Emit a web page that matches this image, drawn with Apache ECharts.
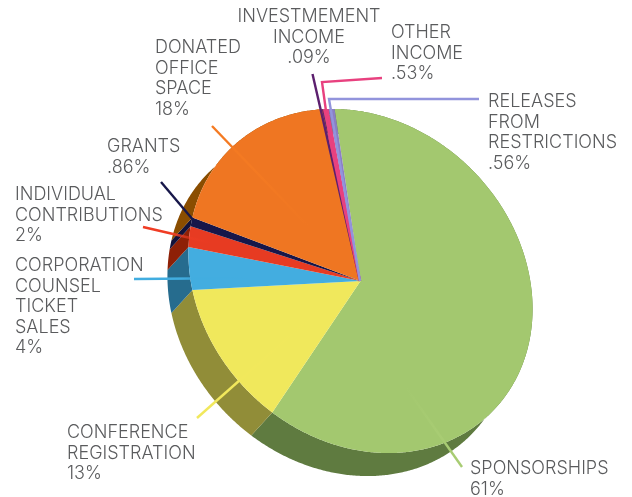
<!DOCTYPE html>
<html>
<head>
<meta charset="utf-8">
<title>Revenue sources</title>
<script src="https://cdn.jsdelivr.net/npm/echarts@6/dist/echarts.min.js"></script>
<style>
  html, body { margin: 0; padding: 0; background: #fff; }
  #chart { width: 632px; height: 497px; }
</style>
</head>
<body>
<div id="chart"></div>
<script>
var sliceNames = ['SPONSORSHIPS', 'CONFERENCE\nREGISTRATION', 'CORPORATION\nCOUNSEL\nTICKET\nSALES',
  'INDIVIDUAL\nCONTRIBUTIONS', 'GRANTS', 'DONATED\nOFFICE\nSPACE', 'INVESTMEMENT\nINCOME', 'OTHER\nINCOME',
  'RELEASES\nFROM\nRESTRICTIONS'];
var sliceValues = [61, 13, 4, 2, 0.86, 18, 0.09, 0.53, 0.56];
var sliceLabels = ['61%', '13%', '4%', '2%', '.86%', '18%', '.09%', '.53%', '.56%'];

// styles
var topColors = ['#a3c86f', '#f0e85c', '#43ade0', '#e73b22', '#17174a', '#ef7622', '#5c1f6e', '#e8417f', '#8b7fc4'];
var wallColors = ['#5f7b40', '#918d38', '#266c8e', '#8e2006', '#12123a', '#8a4d00', '#3a1346', '#8a2650', '#54497a'];

// the pie is a tilted disc: an ellipse lying at 45deg, pushed along its short axis
var cx = 360.5, cy = 281, radiusLong = 185.5, radiusShort = 157.5;
var tilt = Math.PI / 4, wallX = -21, wallY = 23;
var startDeg = -139;

// label anchor, first line centre
var labelPos = [
  [470, 469, 'left'], [67, 433, 'left'], [15, 266, 'left'], [15, 195, 'left'], [107, 147, 'left'],
  [155, 48, 'left'], [309, 17, 'center'], [391, 33, 'left'], [488, 102, 'left']
];
// leader lines, label end first
var leaders = [
  { pts: [[462, 467], [405, 386]], color: '#a8cc73', fade: true },
  { pts: [[197, 418], [327, 303]], color: '#f1e85c', fade: true },
  { pts: [[134, 279], [253, 278]], color: '#41ade0', fade: true },
  { pts: [[143, 227], [212, 243]], color: '#f03c24', fade: true },
  { pts: [[161, 182], [194, 221]], color: '#17174a', fade: false },
  { pts: [[212, 126], [310, 228]], color: '#f47a22', fade: true },
  { pts: [[312.5, 74], [360, 281]], color: '#5c1f6e', fade: false },
  { pts: [[382, 78], [322, 82], [330, 140], [345, 212], [360, 281]], color: '#e8417f', fade: false },
  { pts: [[479, 99], [329, 99], [360, 281]], color: '#9294dc', fade: false }
];

function edgePoint(deg, dx, dy) {
  var t = deg * Math.PI / 180;
  var u = radiusLong * Math.cos(t), v = radiusShort * Math.sin(t);
  return [
    cx + u * Math.cos(tilt) - v * Math.sin(tilt) + dx,
    cy + u * Math.sin(tilt) + v * Math.cos(tilt) + dy
  ];
}

function sliceRange(i) {
  var total = sliceValues.reduce(function (a, b) { return a + b; }, 0);
  var before = sliceValues.slice(0, i).reduce(function (a, b) { return a + b; }, 0);
  return [startDeg + before / total * 360, startDeg + (before + sliceValues[i]) / total * 360];
}

function arc(from, to, dx, dy) {
  var pts = [], n = Math.max(2, Math.ceil((to - from) * 2));
  for (var k = 0; k <= n; k++) pts.push(edgePoint(from + (to - from) * k / n, dx, dy));
  return pts;
}

function renderWall(params) {
  var r = sliceRange(params.dataIndex);
  var pts = arc(r[0], r[1], 0, 0).concat(arc(r[0], r[1], wallX, wallY).reverse());
  return { type: 'polygon', shape: { points: pts }, style: { fill: wallColors[params.dataIndex] } };
}

function renderTop(params) {
  var r = sliceRange(params.dataIndex);
  var pts = [[cx, cy]].concat(arc(r[0], r[1], 0, 0));
  return { type: 'polygon', shape: { points: pts }, style: { fill: topColors[params.dataIndex] } };
}

var graphics = [];
leaders.forEach(function (l) {
  var a = l.pts[l.pts.length - 2], b = l.pts[l.pts.length - 1];
  var stroke = l.color;
  if (l.fade) {
    stroke = new echarts.graphic.LinearGradient(a[0], a[1], b[0], b[1], [
      { offset: 0, color: l.color },
      { offset: 0.4, color: l.color },
      { offset: 1, color: l.color + '00' }
    ], true);
  }
  graphics.push({
    type: 'polyline', z: 10, shape: { points: l.pts },
    style: { stroke: stroke, lineWidth: 2.4, fill: null }
  });
});
sliceNames.forEach(function (name, i) {
  graphics.push({
    type: 'text', z: 11, x: labelPos[i][0], y: labelPos[i][1] - 10.25,
    style: {
      text: name + '\n' + sliceLabels[i],
      fill: '#5a5b5d',
      font: '300 18px Inter',
      lineHeight: 20.5,
      align: labelPos[i][2],
      verticalAlign: 'top'
    }
  });
});

var myChart = echarts.init(document.getElementById('chart'));
var option = {
  animation: false,
  backgroundColor: '#fff',
  graphic: graphics,
  series: [
    { type: 'custom', coordinateSystem: 'none', z: 1, renderItem: renderWall, data: sliceValues },
    { type: 'custom', coordinateSystem: 'none', z: 2, renderItem: renderTop, data: sliceValues }
  ]
};
myChart.setOption(option);
</script>
</body>
</html>
